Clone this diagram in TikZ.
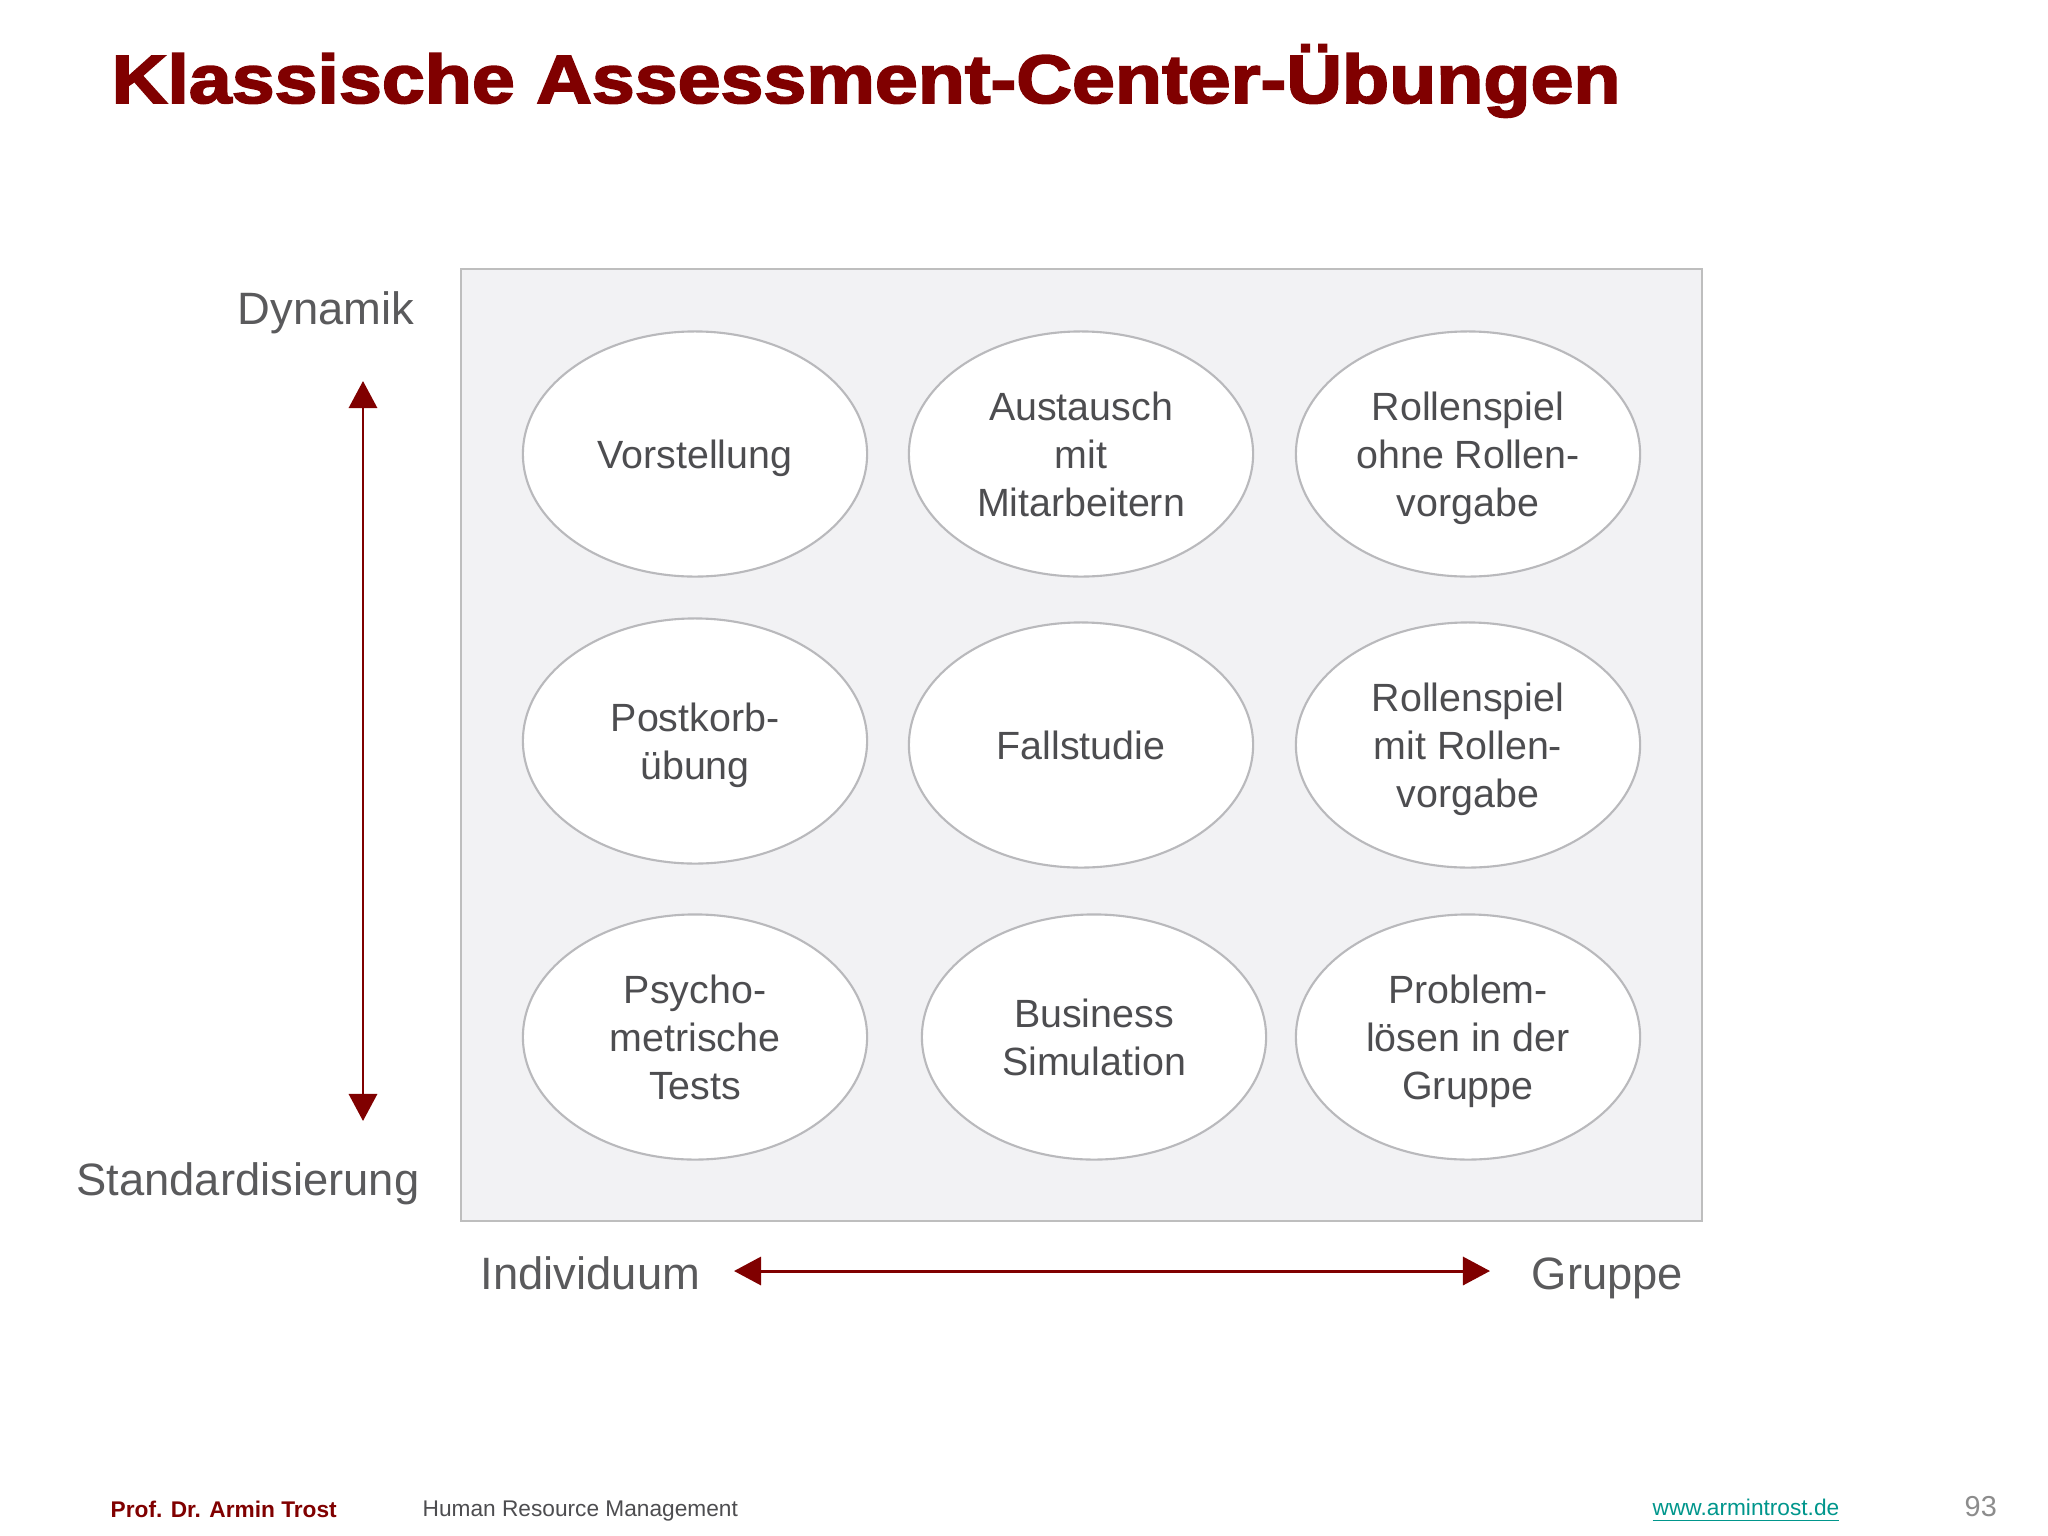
\documentclass[tikz,border=0pt]{standalone}
\usepackage{fontspec}
\setmainfont{Liberation Sans}
\newfontfamily\titlefont[FakeBold=2.4]{Liberation Sans Bold}
\usepackage{graphicx}
\usetikzlibrary{shapes.geometric,arrows.meta}
\definecolor{darkred}{RGB}{128,0,0}
\definecolor{boxfill}{RGB}{242,242,244}
\definecolor{boxline}{RGB}{190,190,190}
\definecolor{ellline}{RGB}{185,185,188}
\definecolor{txtgray}{RGB}{77,77,80}
\definecolor{axgray}{RGB}{90,90,92}
\definecolor{linkteal}{RGB}{0,150,140}
\definecolor{numgray}{RGB}{140,140,140}
\tikzset{
  ell/.style={ellipse, draw=ellline, line width=0.6pt, fill=white,
    minimum width=3.44cm, minimum height=2.45cm, inner sep=0pt,
    text depth=-1.6pt,
    align=center, text=txtgray, font=\fontsize{11.2}{13.6}\selectfont},
  axlabel/.style={text=axgray, inner sep=0pt, font=\fontsize{12.9}{15}\selectfont},
  axarrow/.style={draw=darkred, line width=0.85pt,
    {Triangle[length=7.7pt,width=8pt]}-{Triangle[length=7.7pt,width=8pt]}},
  foot/.style={inner sep=0pt, font=\fontsize{6.45}{8}\selectfont}
}
\begin{document}
\begin{tikzpicture}[x=0.01cm,y=-0.01cm]
\useasboundingbox[fill=white] (0,0) rectangle (2048,1536);
% title
\node[anchor=base west, inner sep=0pt, text=darkred,
  font=\fontsize{19.5}{22}\titlefont] (title) at (111,103)
  {\scalebox{1.125}[1]{Klassische Assessment-Center-Übungen}};
% box
\node[draw=boxline, fill=boxfill, line width=0.7pt, inner sep=0pt,
  minimum width=12.4cm, minimum height=9.51cm, anchor=north west] (box) at (460,268) {};
% ellipses
\node[ell] (e11) at (695,454) {Vorstellung};
\node[ell] (e12) at (1081,454) {Austausch\\mit\\Mitarbeitern};
\node[ell] (e13) at (1468,454) {Rollenspiel\\ohne Rollen-\\vorgabe};
\node[ell] (e21) at (695,741) {Postkorb-\\übung};
\node[ell] (e22) at (1081,745) {Fallstudie};
\node[ell] (e23) at (1468,745) {Rollenspiel\\mit Rollen-\\vorgabe};
\node[ell] (e31) at (695,1037) {Psycho-\\metrische\\Tests};
\node[ell] (e32) at (1094,1037) {Business\\Simulation};
\node[ell] (e33) at (1468,1037) {Problem-\\lösen in der\\Gruppe};
% axis labels
\node[axlabel, anchor=base east] (dyn) at (415,324) {Dynamik};
\node[axlabel, anchor=base east] (std) at (420,1195) {Standardisierung};
\node[axlabel, anchor=base west] (ind) at (480,1289) {Individuum};
\node[axlabel, anchor=base west] (grp) at (1531,1289) {Gruppe};
% arrows
\coordinate (vt) at (363,381);
\coordinate (vb) at (363,1121);
\coordinate (hl) at (734,1271);
\coordinate (hr) at (1490,1271);
\draw[axarrow] (vt) -- (vb);
\draw[axarrow] (hl) -- (hr);
% footer
\node[foot, anchor=west, text=darkred, font=\fontsize{6.45}{8}\selectfont\bfseries] (f1) at (110,1509) {Prof. Dr. Armin Trost};
\node[foot, anchor=west, text=txtgray] (f2) at (422,1511) {Human Resource Management};
\node[foot, anchor=west, text=linkteal] (f3) at (1652,1511) {\underline{www.armintrost.de}};
\node[foot, anchor=west, text=numgray, font=\fontsize{8.2}{10}\selectfont] (f4) at (1964,1507) {93};
\end{tikzpicture}
\end{document}
